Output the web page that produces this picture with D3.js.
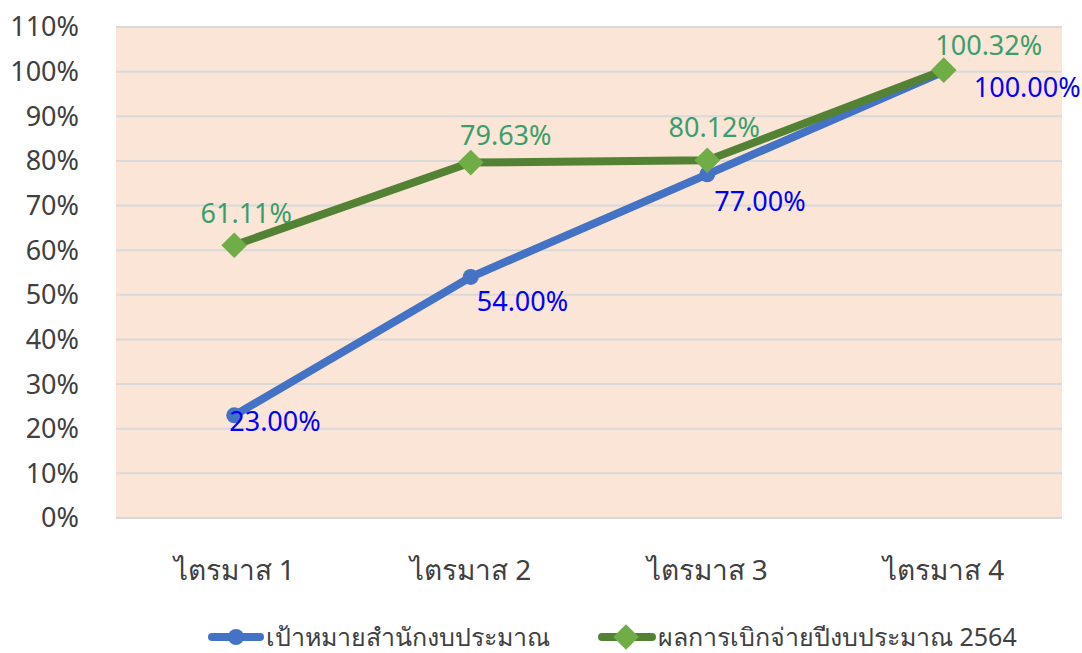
<!DOCTYPE html>
<html>
<head>
<meta charset="utf-8">
<script src="https://cdn.jsdelivr.net/npm/d3@7"></script>
<style>
  body { margin: 0; background: #fff; }
  text { font-family: "Noto Sans", "Open Sans", sans-serif; }
</style>
</head>
<body>
<svg id="chart" width="1082" height="653"></svg>
<script>
// data
var quarters = ["ไตรมาส 1", "ไตรมาส 2", "ไตรมาส 3", "ไตรมาส 4"];
var targetValues = [23.00, 54.00, 77.00, 100.00];
var actualValues = [61.11, 79.63, 80.12, 100.32];
var yTicks = [0, 10, 20, 30, 40, 50, 60, 70, 80, 90, 100, 110];
var seriesNames = ["เป้าหมายสำนักงบประมาณ", "ผลการเบิกจ่ายปีงบประมาณ 2564"];

// label nudges (layout only)
var targetLabelShift = [[-5, 6], [6, 25], [7, 27], [30, 16]];
var actualLabelShift = [[12, -32], [35, -27], [7, -33], [45, -25]];

var svg = d3.select("#chart");
var plotLeft = 116, plotRight = 1062, plotTop = 27, plotBottom = 518;

var xScale = d3.scaleBand().domain(quarters).range([plotLeft, plotRight]);
var yScale = d3.scaleLinear().domain([0, 110]).range([plotBottom, plotTop]);
var cx = function (q) { return xScale(q) + xScale.bandwidth() / 2; };

// plot background
svg.append("rect")
  .attr("x", plotLeft).attr("y", plotTop)
  .attr("width", plotRight - plotLeft).attr("height", plotBottom - plotTop)
  .attr("fill", "#FBE5D6");

// gridlines
svg.selectAll(".grid")
  .data(yTicks)
  .enter()
  .append("line")
  .attr("x1", plotLeft).attr("x2", plotRight)
  .attr("y1", (d) => yScale(d)).attr("y2", (d) => yScale(d))
  .attr("stroke", "#D9D9D9")
  .attr("stroke-width", 2);

// y axis labels
svg.selectAll(".ytick")
  .data(yTicks)
  .enter()
  .append("text")
  .attr("x", 79)
  .attr("y", (d) => yScale(d))
  .attr("dy", "0.35em")
  .attr("text-anchor", "end")
  .attr("fill", "#404040")
  .style("font-size", "27px")
  .text((d) => d + "%");

// x axis labels
svg.selectAll(".xtick")
  .data(quarters)
  .enter()
  .append("text")
  .attr("x", (d) => cx(d))
  .attr("y", 570)
  .attr("dy", "0.35em")
  .attr("text-anchor", "middle")
  .attr("fill", "#404040")
  .style("font-size", "28px")
  .text((d) => d);

var line = d3.line()
  .x((d, i) => cx(quarters[i]))
  .y((d) => yScale(d));

// target series (blue, circles)
svg.append("path")
  .attr("d", line(targetValues))
  .attr("fill", "none")
  .attr("stroke", "#4472C4")
  .attr("stroke-width", 8)
  .attr("stroke-linecap", "round");

svg.selectAll(".tdot")
  .data(targetValues)
  .enter()
  .append("circle")
  .attr("cx", (d, i) => cx(quarters[i]))
  .attr("cy", (d) => yScale(d))
  .attr("r", 8)
  .attr("fill", "#4472C4");

// actual series (green, diamonds)
svg.append("path")
  .attr("d", line(actualValues))
  .attr("fill", "none")
  .attr("stroke", "#548235")
  .attr("stroke-width", 8)
  .attr("stroke-linecap", "round");

var diamond = d3.symbol().type(d3.symbolSquare).size(330);
svg.selectAll(".adot")
  .data(actualValues)
  .enter()
  .append("path")
  .attr("d", diamond)
  .attr("transform", (d, i) => "translate(" + cx(quarters[i]) + "," + yScale(d) + ") rotate(45)")
  .attr("fill", "#70AD47");

// data labels
svg.selectAll(".tlabel")
  .data(targetValues)
  .enter()
  .append("text")
  .attr("x", (d, i) => cx(quarters[i]) + targetLabelShift[i][0])
  .attr("y", (d, i) => yScale(d) + targetLabelShift[i][1])
  .attr("dy", "0.35em")
  .attr("fill", "#0000FF")
  .style("font-size", "27px")
  .text((d) => d.toFixed(2) + "%");

svg.selectAll(".alabel")
  .data(actualValues)
  .enter()
  .append("text")
  .attr("x", (d, i) => cx(quarters[i]) + actualLabelShift[i][0])
  .attr("y", (d, i) => yScale(d) + actualLabelShift[i][1])
  .attr("dy", "0.35em")
  .attr("text-anchor", "middle")
  .attr("fill", "#3A9E6B")
  .style("font-size", "27px")
  .text((d) => d.toFixed(2) + "%");

// legend
var legend = svg.append("g").attr("transform", "translate(0,637)");

legend.append("line")
  .attr("x1", 212).attr("x2", 260).attr("y1", 0).attr("y2", 0)
  .attr("stroke", "#4472C4").attr("stroke-width", 8).attr("stroke-linecap", "round");
legend.append("circle").attr("cx", 236).attr("cy", 0).attr("r", 8).attr("fill", "#4472C4");
legend.append("text")
  .attr("x", 266).attr("y", 0).attr("dy", "0.35em")
  .attr("fill", "#404040").style("font-size", "25px")
  .text(seriesNames[0]);

legend.append("line")
  .attr("x1", 602).attr("x2", 652).attr("y1", 0).attr("y2", 0)
  .attr("stroke", "#548235").attr("stroke-width", 8).attr("stroke-linecap", "round");
legend.append("path")
  .attr("d", diamond)
  .attr("transform", "translate(626,0) rotate(45)")
  .attr("fill", "#70AD47");
legend.append("text")
  .attr("x", 658).attr("y", 0).attr("dy", "0.35em")
  .attr("fill", "#404040").style("font-size", "25px")
  .text(seriesNames[1]);
</script>
</body>
</html>
